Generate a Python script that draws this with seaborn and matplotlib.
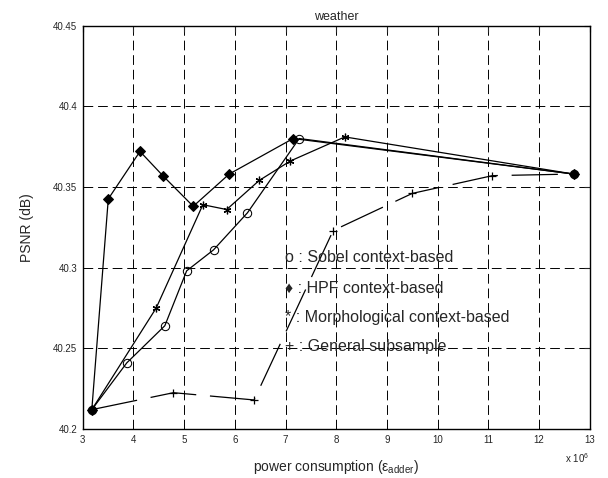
import numpy as np
import pandas as pd
import seaborn as sns
import matplotlib.pyplot as plt

# data (x in units of 1e6)
sobel_x = [3.18, 3.87, 4.62, 5.05, 5.58, 6.25, 7.27, 12.68]
sobel_y = [40.212, 40.241, 40.264, 40.298, 40.311, 40.334, 40.380, 40.358]

hpf_x = [3.18, 3.505, 4.13, 4.58, 5.18, 5.89, 7.15, 12.68]
hpf_y = [40.212, 40.3426, 40.372, 40.357, 40.338, 40.358, 40.380, 40.358]

morph_x = [3.18, 4.45, 5.37, 5.84, 6.48, 7.09, 8.17, 12.68]
morph_y = [40.212, 40.275, 40.339, 40.336, 40.354, 40.366, 40.381, 40.358]

gen_x = [3.18, 4.79, 6.38, 7.94, 9.50, 11.08, 12.68]
gen_y = [40.212, 40.2225, 40.218, 40.323, 40.346, 40.357, 40.358]

legend_labels = ['o : Sobel context-based', '\u2666 : HPF context-based',
                 '* : Morphological context-based', '+ : General subsample']
legend_y = [40.306, 40.287, 40.269, 40.251]

sns.set_style('white')
plt.rcParams['font.family'] = ['Liberation Sans', 'DejaVu Sans']
plt.rcParams['mathtext.fontset'] = 'custom'
plt.rcParams['mathtext.rm'] = 'Liberation Sans'
plt.rcParams['mathtext.it'] = 'Liberation Sans'

fig = plt.figure(figsize=(6.08, 4.78), dpi=100)
ax = fig.add_axes([0.136, 0.1025, 0.834, 0.844])

asterisk = (6, 2, 0)
sns.lineplot(x=sobel_x, y=sobel_y, ax=ax, color='k', lw=0.9, marker='o',
             markersize=6, markerfacecolor='none', markeredgecolor='k', sort=False)
sns.lineplot(x=hpf_x, y=hpf_y, ax=ax, color='k', lw=0.9, marker='D',
             markersize=5.5, markerfacecolor='k', markeredgecolor='k', sort=False)
sns.lineplot(x=morph_x, y=morph_y, ax=ax, color='k', lw=0.9, marker=asterisk,
             markersize=5.5, markeredgecolor='k', markeredgewidth=0.9, sort=False)
sns.lineplot(x=gen_x, y=gen_y, ax=ax, color='k', lw=0.9, marker='+',
             markersize=6, markeredgecolor='k', markeredgewidth=0.9, sort=False,
             linestyle=(0, (37, 11)))

for lab, yy in zip(legend_labels, legend_y):
    ax.text(6.99, yy, lab, fontsize=11.5, va='center', ha='left')

ax.set_xlim(3, 13)
ax.set_ylim(40.2, 40.45)
ax.set_xticks(np.arange(3, 14, 1))
ax.set_xticklabels([str(v) for v in range(3, 14)])
ax.set_yticks([40.2, 40.25, 40.3, 40.35, 40.4, 40.45])
ax.set_yticklabels(['40.2', '40.25', '40.3', '40.35', '40.4', '40.45'])
ax.tick_params(direction='in', length=4, width=0.8, labelsize=7,
               top=True, right=True, pad=4)
ax.grid(True, color='k', linestyle=(0, (10, 5)), linewidth=0.7)
for s in ax.spines.values():
    s.set_color('k')
    s.set_linewidth(1.0)

ax.set_title('weather', fontsize=9, pad=4)
ax.set_ylabel('PSNR (dB)', fontsize=10, labelpad=14)
ax.set_xlabel(r'power consumption ($\epsilon_{\mathrm{adder}}$)', fontsize=10, labelpad=10)
fig.text(0.929, 0.032, r'x 10$^{6}$', fontsize=7)

fig.savefig('out.png', dpi=100)
